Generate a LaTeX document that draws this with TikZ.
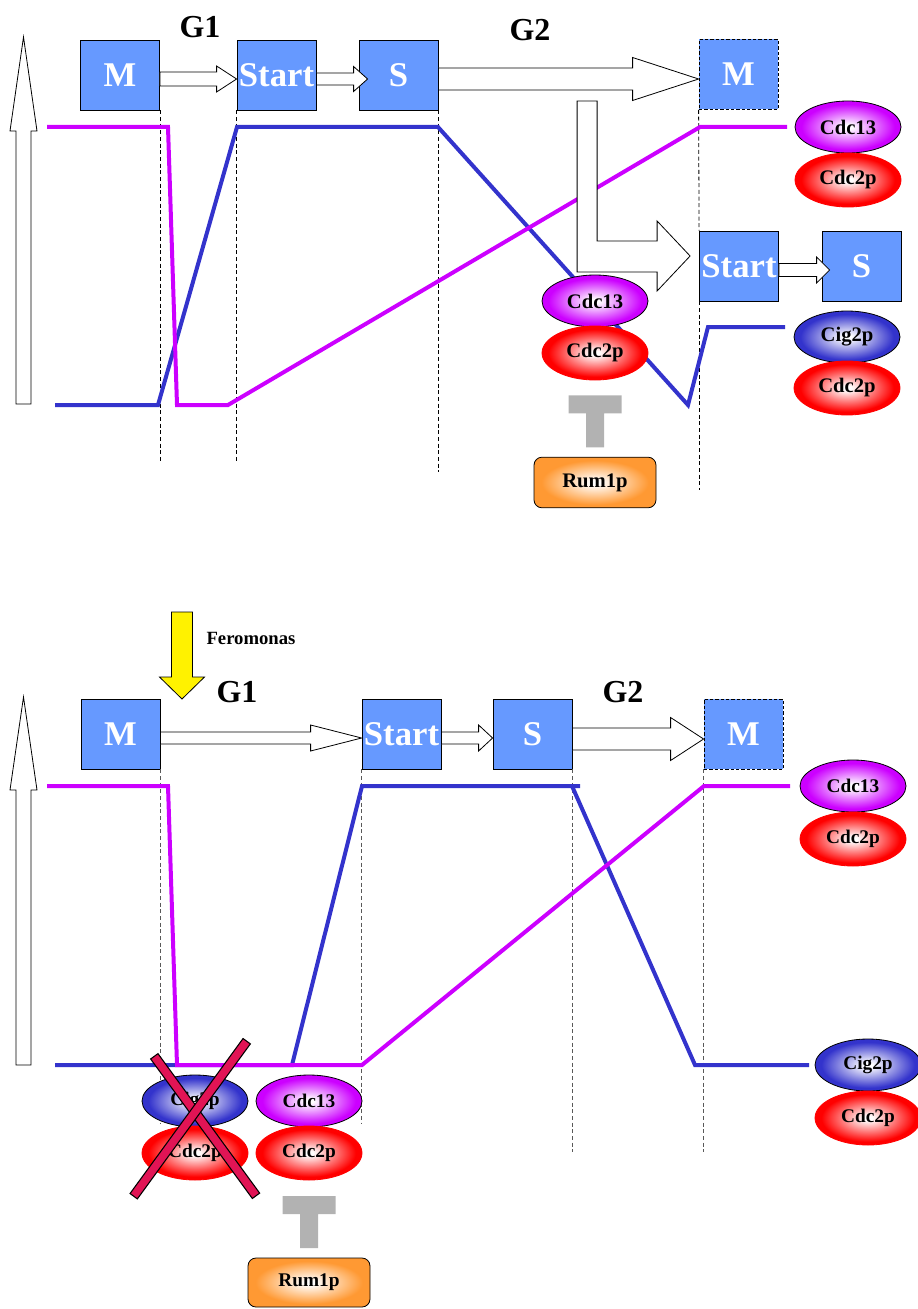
\documentclass[tikz,border=0pt]{standalone}
\usepackage{fontspec}
\setmainfont{Liberation Serif}
\usetikzlibrary{calc,shapes.geometric}

\definecolor{stageblue}{RGB}{102,153,255}
\definecolor{cycviolet}{RGB}{204,0,255}
\definecolor{cdkblue}{RGB}{51,51,204}
\definecolor{rumorange}{RGB}{255,153,51}
\definecolor{inhibgray}{RGB}{178,178,178}
\definecolor{crossred}{RGB}{225,20,85}

% radial glows: white centre, full colour at the rim (rim = 25bp)
\pgfdeclareradialshading{glowred}{\pgfpointorigin}{color(0bp)=(white); color(2bp)=(white); color(22bp)=(red); color(50bp)=(red)}
\pgfdeclareradialshading{glowviolet}{\pgfpointorigin}{color(0bp)=(white); color(2bp)=(white); color(22bp)=(cycviolet); color(50bp)=(cycviolet)}
\pgfdeclareradialshading{glowblue}{\pgfpointorigin}{color(0bp)=(white); color(2bp)=(white); color(22bp)=(cdkblue); color(50bp)=(cdkblue)}
\pgfdeclareradialshading{gloworange}{\pgfpointorigin}{color(0bp)=(white); color(2bp)=(white); color(22bp)=(rumorange); color(50bp)=(rumorange)}

\tikzset{
  stage/.style={draw=black, line width=0.6pt, fill=stageblue, minimum width=59.25pt,
    minimum height=52.5pt, inner sep=0pt, text=white, font=\bfseries\fontsize{26}{26}\selectfont},
  dashedstage/.style={stage, dash pattern=on 2.5pt off 1.5pt},
  guide/.style={draw=black, line width=0.6pt, dash pattern=on 3pt off 2pt},
  paleguide/.style={guide, draw=black!65},
  level/.style={line width=3pt},
  hollow/.style={draw=black, fill=white, line width=0.6pt, line join=miter},
  protein/.style={ellipse, minimum width=79.5pt, minimum height=39pt, inner sep=0pt,
    font=\bfseries\fontsize{15.5}{15.5}\selectfont},
  pcdc13/.style={protein, draw=black, line width=0.6pt, shading=glowviolet},
  pcig2/.style={protein, draw=black, line width=0.6pt, shading=glowblue},
  pcdc2/.style={protein, draw=red, line width=0.6pt, shading=glowred, minimum height=40.5pt},
  smalltext/.style={font=\bfseries\fontsize{14.5}{14.5}\selectfont},
  rumbox/.style={draw=black, line width=0.6pt, rounded corners=6pt, shading=gloworange,
    minimum width=91.5pt, minimum height=38pt, inner sep=0pt,
    font=\bfseries\fontsize{15.5}{15.5}\selectfont},
  phase/.style={font=\bfseries\fontsize{24}{24}\selectfont, inner sep=0pt},
  crossbar/.style={fill=crossred, draw=black, line width=0.8pt},
}

% horizontal block arrow: start, tip, shaft half-width, head half-width, head length
\newcommand\hollowarrow[5]{%
  \draw[hollow] ($(#1)+(0,-#3)$) -- ($(#2)+(-#5,-#3)$) -- ($(#2)+(-#5,-#4)$) -- (#2)
    -- ($(#2)+(-#5,#4)$) -- ($(#2)+(-#5,#3)$) -- ($(#1)+(0,#3)$) -- cycle;}
% thick bar of the crossing-out mark between two points
\newcommand\strikebar[2]{%
  \filldraw[crossbar] ($(#1)!3.4pt!90:(#2)$) -- ($(#1)!3.4pt!-90:(#2)$)
    -- ($(#2)!3.4pt!90:(#1)$) -- ($(#2)!3.4pt!-90:(#1)$) -- cycle;}
% grey inhibition bar standing on a node
\newcommand\inhibit[1]{%
  \fill[inhibgray, shift={(#1.north)}] (-9,-9.5) -- (-9,-43.5) -- (-26.5,-43.5) -- (-26.5,-61.5)
    -- (26.5,-61.5) -- (26.5,-43.5) -- (9,-43.5) -- (9,-9.5) -- cycle;}

\begin{document}
\begin{tikzpicture}[x=0.75pt,y=-0.75pt]
\useasboundingbox (0,0) rectangle (917,1309);

% ================= upper panel =================
\node[stage] (m1) at (120,75) {M};
\node[stage] (st1) at (276.5,75) {Start};
\node[stage] (s1) at (398.5,75) {S};
\node[dashedstage] (m1d) at (738.5,74.5) {M};
\node[stage] (st2) at (739,266) {Start};
\node[stage] (s2) at (861.5,266) {S};

\node[phase] (g1a) at (200,27) {G1};
\node[phase] (g2a) at (530,30) {G2};

% time guides
\draw[guide] (m1.south east) -- ++(0,352);
\draw[guide] (st1.south west) -- ++(0,352);
\draw[guide] (s1.south east) -- ++(0,362);
\draw[guide] (m1d.south west) -- (st2.north west);
\draw[guide] (st2.south west) -- ++(0,189);

% level axis
\coordinate (axis1) at (23.5,37);
\draw[hollow, shift={(axis1)}] (0,0) -- (13.5,94) -- (7.5,94) -- (7.5,367) -- (-7.5,367)
  -- (-7.5,94) -- (-13.5,94) -- cycle;

% activity levels
\draw[level, draw=cdkblue] (55,405) -- (158,405) -- (237,127) -- (438,127) -- (688,405)
  -- (708,327) -- (785,327);
\draw[level, draw=cycviolet] (47,127) -- (168,127) -- (177,405) -- (228,405) -- (700,127)
  -- (787,127);

% transitions
\coordinate (t1a) at ($(m1.east)+(0,4)$);
\coordinate (t1b) at (st1.west |- t1a);
\hollowarrow{t1a}{t1b}{7}{13}{20}
\coordinate (t2a) at ($(st1.east)+(0,4)$);
\coordinate (t2b) at ($(s1.west |- t2a)+(9,0)$);
\hollowarrow{t2a}{t2b}{6}{12.5}{14}
\coordinate (t3a) at ($(s1.east)+(0,4)$);
\coordinate (t3b) at (m1d.west |- t3a);
\hollowarrow{t3a}{t3b}{11}{21.5}{66}
\coordinate (t4a) at ($(st2.east)+(0,4)$);
\coordinate (t4b) at ($(s2.west |- t4a)+(8,0)$);
\hollowarrow{t4a}{t4b}{6.5}{13}{13}

% bent arrow into the second Start
\coordinate (ltip) at ($(st2.west)+(-9,-10)$);
\draw[hollow, shift={(ltip)}] (-113,-155) -- (-93,-155) -- (-93,-15) -- (-33,-15) -- (-33,-35)
  -- (0,0) -- (-33,35) -- (-33,16) -- (-113,16) -- cycle;

% complexes
\node[pcdc13] (c13a) at (848,127) {Cdc13};
\node[pcdc2] (c2a) at (848,180) {Cdc2p};
\node[pcdc13] (c13b) at (595,301) {Cdc13};
\node[pcdc2] (c2b) at (595,353) {Cdc2p};
\node[pcig2] (cig2a) at (847,337) {Cig2p};
\node[pcdc2] (c2c) at (847,388) {Cdc2p};

\node[rumbox] (rum1) at (595,482.5) {Rum1p};
\inhibit{rum1}

% ================= lower panel =================
\node[stage] (m2) at (120.5,734) {M};
\node[stage] (st3) at (401.5,734) {Start};
\node[stage] (s3) at (532.5,734) {S};
\node[dashedstage] (m2d) at (743.5,734) {M};

\node[phase] (g1b) at (237,692.5) {G1};
\node[phase] (g2b) at (623,692) {G2};

% pheromone signal
\coordinate (fero) at (182,699);
\draw[draw=black, fill=yellow, line width=0.6pt, shift={(fero)}] (0,0) -- (22.5,-22) -- (10.5,-22)
  -- (10.5,-87) -- (-10.5,-87) -- (-10.5,-22) -- (-22.5,-22) -- cycle;
\node[font=\bfseries\fontsize{14}{14}\selectfont, inner sep=0pt] (ferolbl) at (251,638) {Feromonas};

% time guides
\draw[paleguide] (m2.south east) -- ++(0,354);
\draw[paleguide] (st3.south west) -- ++(0,354);
\draw[paleguide] (s3.south east) -- ++(0,383);
\draw[paleguide] (m2d.south west) -- ++(0,383);

% level axis
\coordinate (axis2) at (23.5,697);
\draw[hollow, shift={(axis2)}] (0,0) -- (13.5,93) -- (7.5,93) -- (7.5,368) -- (-7.5,368)
  -- (-7.5,93) -- (-13.5,93) -- cycle;

% activity levels
\draw[level, draw=cdkblue] (55,1065) -- (292,1065) -- (362,786) -- (580,786);
\draw[level, draw=cdkblue] (572,786) -- (695,1065) -- (809,1065);
\draw[level, draw=cycviolet] (47,786) -- (168,786) -- (177,1065) -- (362,1065) -- (704,786)
  -- (790,786);

% transitions
\coordinate (b1a) at ($(m2.east)+(0,4)$);
\coordinate (b1b) at (st3.west |- b1a);
\hollowarrow{b1a}{b1b}{6}{13}{51}
\coordinate (b2a) at ($(st3.east)+(0,4)$);
\coordinate (b2b) at (s3.west |- b2a);
\hollowarrow{b2a}{b2b}{6}{13}{14}
\coordinate (b3a) at ($(s3.east)+(0,5)$);
\coordinate (b3b) at (m2d.west |- b3a);
\hollowarrow{b3a}{b3b}{11}{21.5}{33}

% complexes
\node[pcig2, smalltext] (cig2b) at (195,1101) {Cig2p};
\node[pcdc2, smalltext] (c2d) at (195,1153) {Cdc2p};
\node[pcdc13, smalltext] (c13c) at (309,1101) {Cdc13};
\node[pcdc2, smalltext] (c2e) at (309,1153) {Cdc2p};
\node[pcdc13, smalltext] (c13d) at (853,786) {Cdc13};
\node[pcdc2, smalltext] (c2f) at (853,839) {Cdc2p};
\node[pcig2, smalltext] (cig2c) at (868,1065) {Cig2p};
\node[pcdc2, smalltext] (c2g) at (868,1118) {Cdc2p};

% Cig2p-Cdc2p crossed out
\coordinate (xa1) at (154.3,1056.3);
\coordinate (xa2) at (256,1195.8);
\coordinate (xb1) at (246.7,1041.2);
\coordinate (xb2) at (133.7,1196.2);
\strikebar{xa1}{xa2}
\strikebar{xb1}{xb2}

\node[rumbox, minimum height=36.75pt, smalltext] (rum2) at (309,1282.5) {Rum1p};
\inhibit{rum2}

\end{tikzpicture}
\end{document}
